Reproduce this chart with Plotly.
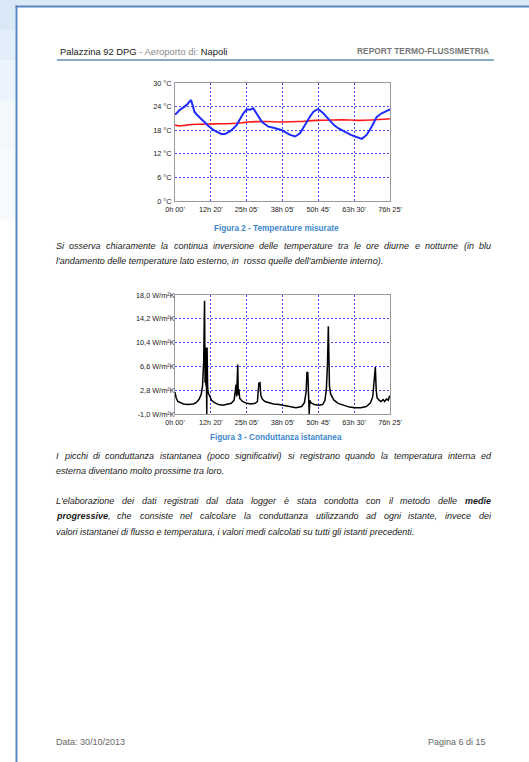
import plotly.graph_objects as go

W, H = 529, 762

# ---------------- data ----------------
X_TICK_LABELS = ["0h 00'", "12h 20'", "25h 05'", "38h 05'", "50h 45'", "63h 30'", "76h 25'"]
T_END = 76 + 25 / 60  # hours

# Figura 2 - external temperature (blue)
EXT_HOURS = [0.0, 0.6, 1.4, 2.4, 3.4, 4.4, 5.2, 5.7, 6.2, 6.9, 7.7, 8.5, 9.5, 10.7, 12.0, 13.6,
             15.0, 16.6, 18.0, 20.1, 21.9, 23.1, 24.3, 25.5, 26.6, 27.8, 29.0, 30.0, 30.8, 32.0,
             33.2, 35.0, 36.7, 38.0, 39.5, 40.9, 42.7, 44.4, 45.6, 46.8, 48.0, 49.2, 50.9, 52.7,
             54.0, 55.1, 56.5, 58.0, 59.5, 61.0, 62.5, 64.0, 65.2, 66.4, 68.1, 69.9, 71.7, 73.5,
             75.3, 76.42]
EXT_TEMP = [22.0, 22.3, 23.0, 23.4, 24.0, 24.6, 25.2, 25.7, 24.5, 22.7, 22.0, 21.4, 20.8, 19.8, 19.0, 18.1,
            17.6, 17.0, 17.1, 18.0, 19.3, 20.9, 22.3, 23.3, 23.2, 23.6, 22.3, 21.0, 20.2, 19.5,
            18.9, 18.6, 18.2, 18.0, 17.4, 16.8, 16.4, 17.2, 18.6, 20.2, 21.5, 22.7, 23.4, 22.3,
            21.2, 20.2, 19.3, 18.5, 17.9, 17.2, 16.8, 16.4, 16.0, 15.8, 16.8, 18.9, 21.4, 22.3,
            22.9, 23.3]

# Figura 2 - internal temperature (red)
INT_HOURS = [0.0, 1.5, 4.0, 8.0, 14.0, 20.0, 24.0, 26.0, 32.0, 38.0, 44.0, 50.0, 56.0, 62.0, 66.0, 70.0, 76.42]
INT_TEMP = [19.3, 19.1, 19.3, 19.5, 19.6, 19.7, 19.9, 20.1, 20.2, 20.1, 20.2, 20.5, 20.6, 20.6, 20.5, 20.6, 20.9]

# Figura 3 - instantaneous conductance (black)
G_HOURS = [0.0, 0.4, 1.0, 2.0, 3.0, 4.5, 5.5, 6.5, 7.5, 8.5, 9.3, 9.8, 10.2, 10.5, 10.7, 10.9, 11.0,
           11.1, 11.2, 11.3, 11.4, 11.6, 11.8, 12.3, 13.0, 14.0, 15.5, 17.0, 18.5, 20.0, 21.0,
           21.4, 21.7, 21.9, 22.1, 22.3, 22.5, 22.7, 23.0, 24.0, 25.5, 27.0, 28.5, 29.3, 29.8,
           30.2, 30.5, 31.0, 32.0, 33.5, 35.0, 37.0, 39.0, 41.0, 43.0, 45.0, 46.0, 46.6, 46.9,
           47.2, 47.5, 47.7, 47.9, 48.3, 49.5, 51.0, 52.5, 53.3, 53.8, 54.2, 54.5, 54.7, 54.9,
           55.3, 56.5, 58.0, 60.0, 62.0, 64.0, 66.0, 68.0, 69.5, 70.3, 70.8, 71.2, 71.5, 71.8,
           72.5, 73.2, 74.0, 74.5, 75.2, 75.8, 76.2, 76.42]
G_VALUES = [2.5, 1.6, 1.0, 0.8, 0.6, 0.5, 0.5, 0.6, 0.8, 1.3, 2.1, 3.5, 7.5, 17.1, 4.0, 9.6, 3.5,
            9.6, 3.0, -1.0, 9.6, 3.2, 2.4, 1.8, 1.2, 0.8, 0.5, 0.4, 0.5, 0.7, 1.2,
            2.5, 3.7, 1.8, 3.5, 6.9, 2.0, 3.0, 1.5, 1.0, 0.7, 0.6, 0.7, 1.0, 3.9,
            4.0, 2.0, 1.4, 1.0, 0.8, 0.6, 0.5, 0.3, 0.1, 0.0, 0.2, 0.8, 2.5, 5.7,
            5.6, 2.0, -1.0, 1.2, 0.8, 0.5, 0.4, 0.5, 1.2, 3.0, 7.0, 13.0, 6.9, 3.5,
            2.2, 1.2, 0.7, 0.4, 0.1, 0.0, 0.0, 0.2, 0.8, 1.8, 4.0, 6.5, 3.0, 1.6,
            1.2, 1.0, 1.3, 1.0, 1.4, 1.2, 1.8, 1.9]

T_TICKS = [0, 6, 12, 18, 24, 30]
T_TICK_LABELS = ["0 °C", "6 °C", "12 °C", "18 °C", "24 °C", "30 °C"]
G_TICKS = [-1.0, 2.8, 6.6, 10.4, 14.2, 18.0]
G_TICK_LABELS = ["-1,0 W/m²K", "2,8 W/m²K", "6,6 W/m²K", "10,4 W/m²K", "14,2 W/m²K", "18,0 W/m²K"]

# ---------------- helpers ----------------
def X(px):
    return px / W

def Y(py):
    return 1 - py / H

TICK_FONT = dict(family="Liberation Sans, Arial, sans-serif", size=7.3, color="#222222")
GRID_COLOR = "#4646ff"
FRAME = "#9a9a9a"
x_tickvals = [i * T_END / 6 for i in range(7)]

fig = go.Figure()

fig.add_trace(go.Scatter(x=INT_HOURS, y=INT_TEMP, mode="lines", line=dict(color="#ff1a1a", width=1.6),
                         xaxis="x", yaxis="y", showlegend=False, line_shape="spline"))
fig.add_trace(go.Scatter(x=EXT_HOURS, y=EXT_TEMP, mode="lines", line=dict(color="#1f2cff", width=2),
                         xaxis="x", yaxis="y", showlegend=False))
fig.add_trace(go.Scatter(x=G_HOURS, y=G_VALUES, mode="lines", line=dict(color="#000000", width=1.5),
                         xaxis="x2", yaxis="y2", showlegend=False))

common_x = dict(range=[0, T_END], tickvals=x_tickvals, ticktext=X_TICK_LABELS, showgrid=True,
                gridcolor=GRID_COLOR, griddash="2px,2px", gridwidth=1, zeroline=False,
                showline=True, mirror=True, linecolor=FRAME, linewidth=1, ticks="",
                tickfont=TICK_FONT, ticklabelstandoff=1, automargin=False)
common_y = dict(showgrid=True, gridcolor=GRID_COLOR, griddash="2px,2px", gridwidth=1, zeroline=False,
                showline=True, mirror=True, linecolor=FRAME, linewidth=1, ticks="", tickfont=TICK_FONT,
                automargin=False)

fig.update_layout(
    width=W, height=H, margin=dict(l=0, r=0, t=0, b=0, pad=0, autoexpand=False),
    paper_bgcolor="white", plot_bgcolor="white", showlegend=False,
    xaxis=dict(domain=[X(175), X(390)], anchor="y", **common_x),
    yaxis=dict(domain=[Y(201), Y(83)], anchor="x", range=[0, 30], tickvals=T_TICKS,
               ticktext=T_TICK_LABELS, ticklabelstandoff=1, **common_y),
    xaxis2=dict(domain=[X(175), X(390)], anchor="y2", **common_x),
    yaxis2=dict(domain=[Y(414), Y(295)], anchor="x2", range=[-1, 18], tickvals=G_TICKS,
                ticktext=G_TICK_LABELS, ticklabelstandoff=-2, **common_y),
)

# ---------------- page decoration ----------------
shapes = []
shapes.append(dict(type="rect", xref="paper", yref="paper", x0=0, x1=1, y0=Y(6), y1=1,
                   fillcolor="#dbe9f7", line=dict(width=0), layer="below"))
for (y0, y1, col) in [(0, 30, "#d9e8f7"), (30, 60, "#e2eefa"), (60, 100, "#ebf3fc"), (100, 150, "#f3f8fd"),
                      (150, 220, "#f8fbfe")]:
    shapes.append(dict(type="rect", xref="paper", yref="paper", x0=0, x1=X(15.5), y0=Y(y1), y1=Y(y0),
                       fillcolor=col, line=dict(width=0), layer="below"))
shapes.append(dict(type="line", xref="paper", yref="paper", x0=X(16.5), x1=X(16.5), y0=0, y1=Y(5.5),
                   line=dict(color="#5b86c4", width=2)))
shapes.append(dict(type="line", xref="paper", yref="paper", x0=X(15.5), x1=1, y0=Y(6.5), y1=Y(6.5),
                   line=dict(color="#5b86c4", width=2)))
shapes.append(dict(type="line", xref="paper", yref="paper", x0=X(57), x1=X(494), y0=Y(60), y1=Y(60),
                   line=dict(color="#5f93b0", width=1.3)))
fig.update_layout(shapes=shapes)

BODY = "Liberation Sans, Arial, sans-serif"

# Arial / Liberation Sans advance widths (1/1000 em)
REG = {" ": 278, "'": 191, "(": 333, ")": 333, ",": 278, ".": 278, "-": 333, ":": 278,
       "S": 667, "L": 556, "I": 278,
       "a": 556, "b": 556, "c": 500, "d": 556, "e": 556, "f": 278, "g": 556, "h": 556, "i": 222,
       "j": 222, "k": 500, "l": 222, "m": 833, "n": 556, "o": 556, "p": 556, "q": 556, "r": 333,
       "s": 500, "t": 278, "u": 556, "v": 500, "w": 722, "x": 500, "y": 500, "z": 500, "è": 556}
BLD = {" ": 278, ",": 278, "a": 556, "d": 611, "e": 556, "g": 611, "i": 278, "m": 889, "o": 611,
       "p": 611, "r": 389, "s": 556, "v": 556}


def text(px, py, s, size=9.0, color="#1e1e1e", anchor="left", family=BODY):
    fig.add_annotation(xref="paper", yref="paper", x=X(px), y=Y(py), text=s, showarrow=False,
                       xanchor=anchor, yanchor="middle", font=dict(family=family, size=size, color=color),
                       align=anchor, borderpad=0, borderwidth=0)


def width(word, bold, size):
    tab = BLD if bold else REG
    return sum(tab.get(ch, 556) for ch in word) / 1000.0 * size


LEFT, RIGHT, BSIZE, BCOL = 56, 491, 9.0, "#1a1a1a"


def split_words(line, bold_words=()):
    res = []
    for w in line.split(" "):
        core = w.rstrip(",")
        if core in bold_words:
            tail = w[len(core):]
            res.append((core, tail))
        else:
            res.append((None, w))
    return res


def body_line(py, line, justify, bold_words=()):
    words = split_words(line, bold_words)
    htmls = [("<b>%s</b>%s" % (b, t)) if b is not None else t for b, t in words]
    if not justify:
        text(LEFT, py, "<i>%s</i>" % " ".join(htmls), size=BSIZE, color=BCOL)
        return
    ws = [(width(b, True, BSIZE) if b is not None else 0) + width(t, False, BSIZE) for b, t in words]
    gap = (RIGHT - LEFT - sum(ws)) / (len(words) - 1)
    x = LEFT
    for h, wd in zip(htmls, ws):
        text(x, py, "<i>%s</i>" % h, size=BSIZE, color=BCOL)
        x += wd + gap


# header
text(60, 51.5, "Palazzina 92 DPG <span style='color:#8a8a8a'>- Aeroporto di: </span>Napoli", size=9.4, color="#1a1a1a")
text(488.5, 51.5, "<b>REPORT TERMO-FLUSSIMETRIA</b>", size=8.4, color="#777777", anchor="right")

# captions and paragraphs
text(276, 228, "<b>Figura 2 - Temperature misurate</b>", size=8.2, color="#3d86cc", anchor="center")
body_line(245.5, "Si osserva chiaramente la continua inversione delle temperature tra le ore diurne e notturne (in blu", True)
body_line(261, "l'andamento delle temperature lato esterno, in  rosso quelle dell'ambiente interno).", False)

text(276, 437, "<b>Figura 3 - Conduttanza istantanea</b>", size=8.2, color="#3d86cc", anchor="center")
body_line(455.5, "I picchi di conduttanza istantanea (poco significativi) si registrano quando la temperatura interna ed", True)
body_line(471, "esterna diventano molto prossime tra loro.", False)

body_line(500.5, "L'elaborazione dei dati registrati dal data logger è stata condotta con il metodo delle medie", True, ("medie",))
body_line(516, "progressive, che consiste nel calcolare la conduttanza utilizzando ad ogni istante, invece dei", True, ("progressive",))
body_line(531.5, "valori istantanei di flusso e temperatura, i valori medi calcolati su tutti gli istanti precedenti.", False)

# footer
text(56, 742, "Data: 30/10/2013", size=9, color="#666666")
text(485.5, 742, "Pagina 6 di 15", size=9, color="#666666", anchor="right")

fig.write_html("out.html", config={"displayModeBar": False},
               post_script="document.body.style.margin='0px';document.body.style.padding='0px';")
